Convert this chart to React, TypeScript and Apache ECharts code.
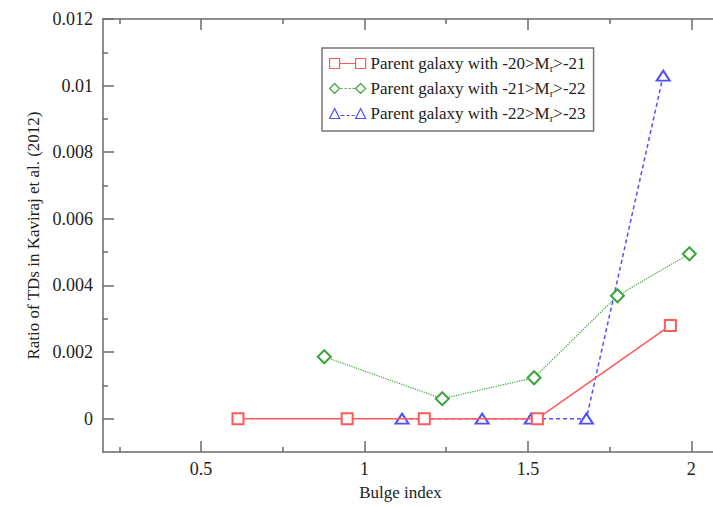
import React, { useEffect, useRef } from "react";
import * as echarts from "echarts";

// Series data (Bulge index, ratio)
const xRed = [0.613, 0.947, 1.183, 1.529, 1.936];
const yRed = [0, 0, 0, 0, 0.0028];
const xGreen = [0.877, 1.238, 1.519, 1.774, 1.994];
const yGreen = [0.00186, 0.0006, 0.00123, 0.00369, 0.00495];
const xBlue = [1.115, 1.36, 1.51, 1.679, 1.914];
const yBlue = [0, 0, 0, 0, 0.0103];

const seriesNames = [
  "Parent galaxy with -20>Mr>-21",
  "Parent galaxy with -21>Mr>-22",
  "Parent galaxy with -22>Mr>-23",
];
const legendParts = [
  ["Parent galaxy with -20>M", "r", ">-21"],
  ["Parent galaxy with -21>M", "r", ">-22"],
  ["Parent galaxy with -22>M", "r", ">-23"],
];

// Axis ticks
const xMajor = [0.5, 1, 1.5, 2];
const xMinor = [0.25, 0.75, 1.25, 1.75];
const yMajor = [0, 0.002, 0.004, 0.006, 0.008, 0.01, 0.012];
const yMinor = [0.001, 0.003, 0.005, 0.007, 0.009, 0.011];
const X_MIN = 0.2;
const X_MAX = 2.1;
const Y_MIN = -0.001;
const Y_MAX = 0.012;

const xTitle = "Bulge index";
const yTitle = "Ratio of TDs in Kaviraj et al. (2012)";

export default function App() {
  const ref = useRef<HTMLDivElement>(null);
  useEffect(() => {
    const chart = echarts.init(ref.current!, null, { renderer: "svg" });
    const font = "Liberation Serif";
    const axisColor = "#6a6a6a";
    const red = "#ff5a5a";
    const green = "#3aa43a";
    const blue = "#5050ff";

    const xAxisBase = (position: string, ticks: number[], len: number, showLine: boolean, showLabel: boolean, withName: boolean) => ({
      type: "value",
      position,
      min: X_MIN,
      max: X_MAX,
      splitLine: { show: false },
      axisLine: { show: showLine, onZero: false, lineStyle: { color: axisColor, width: 1.5 } },
      axisTick: { show: true, inside: true, length: len, customValues: ticks, lineStyle: { color: axisColor, width: 1.5 } },
      axisLabel: showLabel
        ? { show: true, customValues: ticks, fontFamily: font, fontSize: 18, color: "#222", margin: 8 }
        : { show: false },
      ...(withName
        ? {
            name: xTitle,
            nameLocation: "middle",
            nameGap: 32,
            nameTextStyle: { fontFamily: font, fontSize: 17, color: "#222", padding: [0, 26, 0, 0] },
          }
        : {}),
    });
    const yAxisBase = (position: string, ticks: number[], len: number, showLine: boolean, showLabel: boolean, withName: boolean) => ({
      type: "value",
      position,
      min: Y_MIN,
      max: Y_MAX,
      splitLine: { show: false },
      axisLine: { show: showLine, onZero: false, lineStyle: { color: axisColor, width: 1.5 } },
      axisTick: { show: true, inside: true, length: len, customValues: ticks, lineStyle: { color: axisColor, width: 1.5 } },
      axisLabel: showLabel
        ? { show: true, customValues: ticks, fontFamily: font, fontSize: 18, color: "#222", margin: 10 }
        : { show: false },
      ...(withName
        ? {
            name: yTitle,
            nameLocation: "middle",
            nameGap: 53,
            nameTextStyle: { fontFamily: font, fontSize: 17, color: "#222" },
          }
        : {}),
    });

    const sqIcon = "path://M0 0H10V10H0Z M26 0H36V10H26Z M10 5H26";
    const diaIcon = "path://M5 0L10 5L5 10L0 5Z M31 0L36 5L31 10L26 5Z M11 5H13 M15 5H17 M19 5H21 M23 5H25";
    const triIcon = "path://M5 0L10 10L0 10Z M31 0L36 10L26 10Z M11 7H15 M17 7H20 M22 7H25";

    const option: any = {
      animation: false,
      backgroundColor: "#fff",
      textStyle: { fontFamily: font },
      grid: { left: 103, top: 19, width: 621, height: 433, containLabel: false },
      xAxis: [
        xAxisBase("bottom", xMajor, 11, true, true, true),
        xAxisBase("bottom", xMinor, 5, false, false, false),
        xAxisBase("top", xMajor, 11, true, false, false),
        xAxisBase("top", xMinor, 5, false, false, false),
      ],
      yAxis: [
        yAxisBase("left", yMajor, 11, true, true, true),
        yAxisBase("left", yMinor, 5, false, false, false),
        yAxisBase("right", yMajor, 11, true, false, false),
        yAxisBase("right", yMinor, 5, false, false, false),
      ],
      legend: {
        left: 322,
        top: 48,
        orient: "vertical",
        align: "left",
        padding: [7, 8, 8, 7],
        itemGap: 7,
        itemWidth: 36,
        itemHeight: 10,
        borderColor: "#777",
        borderWidth: 1.5,
        backgroundColor: "#fff",
        selectedMode: false,
        data: [
          { name: seriesNames[0], icon: sqIcon, itemStyle: { color: "#fff", borderColor: red, borderWidth: 1.2 } },
          { name: seriesNames[1], icon: diaIcon, itemStyle: { color: "#fff", borderColor: green, borderWidth: 1.2 } },
          { name: seriesNames[2], icon: triIcon, itemStyle: { color: "#fff", borderColor: blue, borderWidth: 1.2 } },
        ],
        formatter: (name: string) => {
          const i = seriesNames.indexOf(name);
          const p = legendParts[i];
          return `{a|${p[0]}}{s|${p[1]}}{a|${p[2]}}`;
        },
        textStyle: {
          fontFamily: font,
          fontSize: 17,
          color: "#222",
          rich: {
            a: { fontFamily: font, fontSize: 17, color: "#222", lineHeight: 19 },
            s: { fontFamily: font, fontSize: 11, color: "#222", lineHeight: 11, verticalAlign: "bottom" },
          },
        },
      },
      series: [
        {
          name: seriesNames[0],
          type: "line",
          xAxisIndex: 0,
          yAxisIndex: 0,
          data: xRed.map((x, i) => [x, yRed[i]]),
          symbol: "emptyRect",
          symbolSize: 11,
          lineStyle: { color: red, width: 1.5, type: "solid" },
          itemStyle: { color: red, borderWidth: 1.2 },
          z: 4,
        },
        {
          name: seriesNames[1],
          type: "line",
          xAxisIndex: 0,
          yAxisIndex: 0,
          data: xGreen.map((x, i) => [x, yGreen[i]]),
          symbol: "emptyDiamond",
          symbolSize: 13,
          lineStyle: { color: green, width: 1.2, type: "dotted" },
          itemStyle: { color: green, borderWidth: 1.2 },
          z: 3,
        },
        {
          name: seriesNames[2],
          type: "line",
          xAxisIndex: 0,
          yAxisIndex: 0,
          data: xBlue.map((x, i) => [x, yBlue[i]]),
          symbol: "emptyTriangle",
          symbolSize: [13, 10],
          lineStyle: { color: blue, width: 1.5, type: [4, 3] },
          itemStyle: { color: blue, borderWidth: 1.2 },
          z: 3,
        },
      ],
    };
    chart.setOption(option);
    return () => chart.dispose();
  }, []);
  return (
    <div style={{ position: "fixed", left: 0, top: 0, width: 713, height: 507, overflow: "hidden", background: "#fff" }}>
      <div ref={ref} style={{ width: 740, height: 507 }} />
    </div>
  );
}
